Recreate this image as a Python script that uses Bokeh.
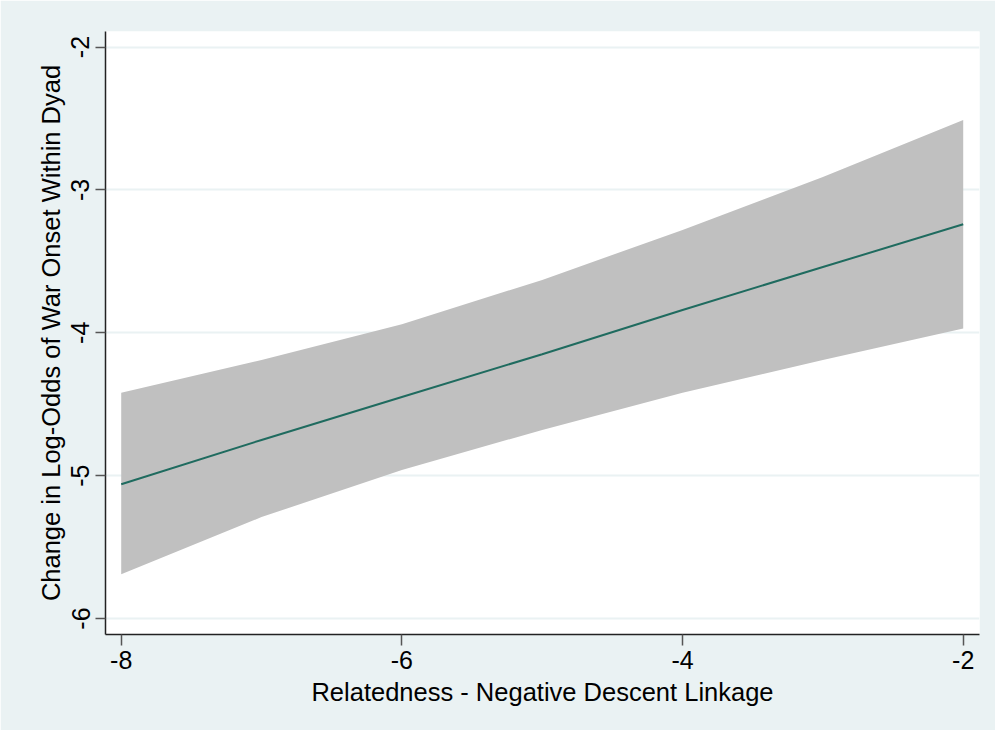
from bokeh.plotting import figure
from bokeh.models import Range1d, FixedTicker
from bokeh.embed import file_html
from bokeh.resources import INLINE

# Data
relatedness = [-8, -7, -6, -5, -4, -3, -2]
fit = [-5.06, -4.75, -4.45, -4.15, -3.84, -3.54, -3.24]
upper = [-4.42, -4.19, -3.94, -3.63, -3.28, -2.91, -2.51]
lower = [-5.69, -5.29, -4.96, -4.68, -4.42, -4.19, -3.97]
x_ticks = [-8, -6, -4, -2]
y_ticks = [-6, -5, -4, -3, -2]
x_tick_labels = {t: "%d" % t for t in x_ticks}
y_tick_labels = {t: "%d" % t for t in y_ticks}

BG = "#EAF2F3"
FONT = "Liberation Sans"

p = figure(width=995, height=730, output_backend="svg", toolbar_location=None,
           x_range=Range1d(-8.112, -1.884), y_range=Range1d(-6.112, -1.891),
           min_border_left=105, min_border_top=31, min_border_right=16,
           min_border_bottom=96)
p.border_fill_color = BG
p.background_fill_color = "white"
p.outline_line_color = None

p.varea(x=relatedness, y1=lower, y2=upper, fill_color="#C0C0C0", fill_alpha=1.0)
p.line(x=relatedness, y=fit, line_color="#1F6B5F", line_width=2)

p.xgrid.visible = False
p.ygrid.grid_line_color = BG
p.ygrid.grid_line_width = 2
p.ygrid.ticker = FixedTicker(ticks=y_ticks)

p.xaxis.ticker = FixedTicker(ticks=x_ticks)
p.yaxis.ticker = FixedTicker(ticks=y_ticks)
p.xaxis.major_label_overrides = x_tick_labels
p.yaxis.major_label_overrides = y_tick_labels
p.xaxis.axis_label = "Relatedness - Negative Descent Linkage"
p.yaxis.axis_label = "Change in Log-Odds of War Onset Within Dyad"
p.yaxis.major_label_orientation = "vertical"

for ax in (p.xaxis, p.yaxis):
    ax.axis_line_color = "#222222"
    ax.axis_line_width = 1.5
    ax.major_tick_line_color = "#555555"
    ax.major_tick_line_width = 1.5
    ax.major_tick_in = 0
    ax.minor_tick_line_color = None
    ax.major_label_text_font = FONT
    ax.major_label_text_font_size = "25px"
    ax.major_label_text_color = "black"
    ax.axis_label_text_font = FONT
    ax.axis_label_text_font_size = "25.5px"
    ax.axis_label_text_font_style = "normal"
    ax.axis_label_text_color = "black"

p.xaxis.major_tick_out = 11
p.yaxis.major_tick_out = 10
p.xaxis.major_label_standoff = 5
p.yaxis.major_label_standoff = 6
p.xaxis.axis_label_standoff = 6
p.yaxis.axis_label_standoff = 4

open("out.html", "w").write(file_html(p, INLINE))
